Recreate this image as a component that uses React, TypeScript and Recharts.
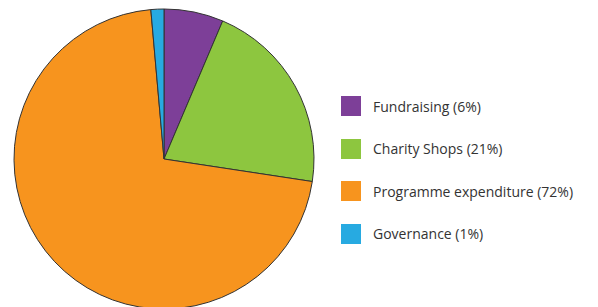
import { PieChart, Pie, Cell } from 'recharts';

const categories = ['Fundraising', 'Charity Shops', 'Programme expenditure', 'Governance'];
const shares = [6.4, 21.0, 71.2, 1.4];
// percentages as printed in the legend
const labelPercents = ['6%', '21%', '72%', '1%'];
const colors = ['#7d3f98', '#8dc63f', '#f7941e', '#27aae1'];

const data = categories.map((name, i) => ({ name, value: shares[i] }));

function LegendList() {
  return (
    <div
      style={{
        position: 'absolute',
        left: 341,
        top: 85,
        fontFamily: '"Open Sans", "Noto Sans", sans-serif',
        fontSize: 14,
        color: '#333',
      }}
    >
      {categories.map((name, i) => (
        <div key={name} style={{ display: 'flex', alignItems: 'center', height: 42.5 }}>
          <span style={{ width: 20, height: 20, background: colors[i], display: 'inline-block', marginRight: 12 }} />
          <span>{`${name} (${labelPercents[i]})`}</span>
        </div>
      ))}
    </div>
  );
}

export default function App() {
  return (
    <div style={{ position: 'absolute', left: 0, top: 0, width: 598, height: 307, background: '#fff', overflow: 'hidden' }}>
      <PieChart width={598} height={307} margin={{ top: 0, right: 0, bottom: 0, left: 0 }}>
        <Pie
          data={data}
          dataKey="value"
          nameKey="name"
          cx={164}
          cy={159}
          outerRadius={150}
          startAngle={90}
          endAngle={-270}
          stroke="#333"
          strokeWidth={1}
          isAnimationActive={false}
        >
          {data.map((d, i) => (
            <Cell key={d.name} fill={colors[i]} />
          ))}
        </Pie>
      </PieChart>
      <LegendList />
    </div>
  );
}
